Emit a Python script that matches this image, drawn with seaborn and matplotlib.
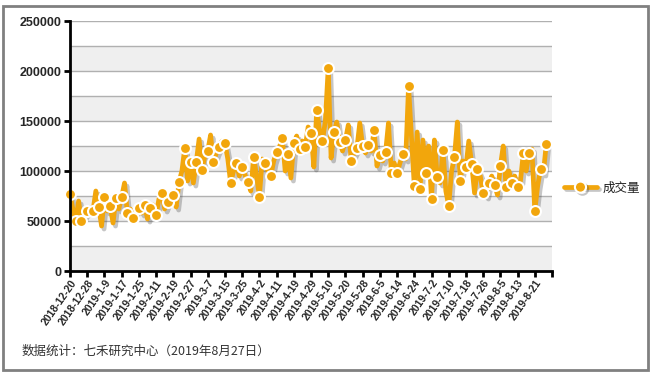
import numpy as np
import pandas as pd
import matplotlib
matplotlib.use("Agg")
import matplotlib.pyplot as plt
import matplotlib.patheffects as pe
from matplotlib.patches import Rectangle
from matplotlib.lines import Line2D
import seaborn as sns

# ---- data (trading-day volume, thousands) ----
volume_k = [
    77, 62, 50, 70, 50, 56, 60, 63, 60, 80,
    64, 45, 74, 60, 65, 48, 73, 62, 74, 88,
    58, 62, 53, 60, 63, 58, 66, 52, 63, 66,
    56, 72, 78, 62, 69, 72, 76, 64, 89, 100,
    123, 90, 109, 88, 109, 132, 101, 115, 120, 136,
    109, 118, 124, 130, 128, 112, 88, 100, 108, 95,
    104, 96, 89, 80, 114, 96, 74, 112, 108, 100,
    95, 110, 119, 124, 133, 100, 117, 93, 128, 135,
    122, 130, 124, 144, 138, 104, 161, 140, 130, 150,
    203, 113, 139, 149, 129, 120, 131, 146, 110, 118,
    123, 148, 125, 118, 126, 120, 141, 105, 116, 110,
    119, 148, 98, 108, 98, 108, 117, 112, 185, 135,
    85, 139, 82, 131, 98, 125, 72, 131, 94, 88,
    121, 80, 65, 100, 114, 149, 90, 110, 104, 130,
    107, 78, 102, 95, 78, 75, 88, 95, 86, 76,
    105, 125, 84, 100, 88, 95, 84, 90, 118, 100,
    118, 122, 60, 85, 102, 98, 127,
]
volume = [v * 1000 for v in volume_k]

tick_labels = [
    "2018-12-20", "2018-12-28", "2019-1-9", "2019-1-17", "2019-1-25",
    "2019-2-11", "2019-2-19", "2019-2-27", "2019-3-7", "2019-3-15",
    "2019-3-25", "2019-4-2", "2019-4-11", "2019-4-19", "2019-4-29",
    "2019-5-10", "2019-5-20", "2019-5-28", "2019-6-5", "2019-6-14",
    "2019-6-24", "2019-7-2", "2019-7-10", "2019-7-18", "2019-7-26",
    "2019-8-5", "2019-8-13", "2019-8-21",
]
series_name = "成交量"
y_ticks = [0, 50000, 100000, 150000, 200000, 250000]
footer = "数据统计：七禾研究中心（2019年8月27日）"

df = pd.DataFrame({"idx": np.arange(len(volume)), "val": volume})
df_mark = df.iloc[::2]

sns.set_theme(style="white")
plt.rcParams["font.family"] = ["Liberation Sans", "DejaVu Sans"]

ORANGE = "#F2A60C"

fig = plt.figure(figsize=(6.52, 3.74), dpi=100)
ax = fig.add_axes([70 / 652, 1 - 271 / 374, 482 / 652, 250 / 374])

# alternating bands and grid
for k in range(0, 250000, 50000):
    ax.axhspan(k, k + 25000, color="#EFEFEF", zorder=0, lw=0)
for k in range(25000, 250001, 25000):
    ax.axhline(k, color="#B0B0B0", lw=1, zorder=1)

# line with soft shadow
sns.lineplot(
    data=df, x="idx", y="val", ax=ax, color=ORANGE, lw=3.4,
    zorder=3, sort=False, legend=False,
    path_effects=[pe.SimpleLineShadow(offset=(1.8, -2.2), shadow_color="#444444", alpha=0.3),
                  pe.Normal()],
)
# markers on every other point
sns.scatterplot(
    data=df_mark, x="idx", y="val", ax=ax, color=ORANGE, s=62,
    edgecolor="white", linewidth=1.5, zorder=4, legend=False, clip_on=False,
)

ax.set_xlim(0, 168)
ax.set_ylim(0, 250000)
ax.set_xlabel("")
ax.set_ylabel("")

ax.set_xticks(list(range(0, 169, 6)))
ax.set_xticklabels(tick_labels + [""], rotation=55, ha="right",
                   rotation_mode="anchor", fontsize=7.5, fontweight="bold")
ax.set_yticks(y_ticks)
ax.set_yticklabels([str(v) for v in y_ticks], fontsize=9, fontweight="bold")

for s in ["top", "right"]:
    ax.spines[s].set_visible(False)
for s in ["left", "bottom"]:
    ax.spines[s].set_color("black")
    ax.spines[s].set_linewidth(2)
    ax.spines[s].set_zorder(5)
ax.tick_params(axis="both", direction="out", length=4, width=2, color="black",
               bottom=True, left=True, pad=2)
ax.tick_params(axis="x", pad=1)

handle = Line2D([], [], color=ORANGE, lw=3.4, marker="o", markersize=8,
                markerfacecolor=ORANGE, markeredgecolor="white", markeredgewidth=1.5,
                path_effects=[pe.SimpleLineShadow(offset=(1.5, -1.5), shadow_color="#444444", alpha=0.3),
                              pe.Normal()])
leg = ax.legend([handle], [series_name], loc="center left", bbox_to_anchor=(1.015, 0.332),
                frameon=False, handlelength=2.6, handletextpad=0.5, borderaxespad=0,
                prop={"family": ["Noto Sans CJK SC", "DejaVu Sans"], "size": 9})
for t in leg.get_texts():
    t.set_color("#222222")

fig.text(22 / 652, 1 - 351 / 374, footer, fontsize=9, color="#333333",
         family=["Noto Sans CJK SC", "DejaVu Sans"], va="center", ha="left")

fig.patches.append(Rectangle((3 / 652, 4 / 374), 645 / 652, 364 / 374,
                             transform=fig.transFigure, fill=False,
                             edgecolor="#808080", lw=2, zorder=10))

fig.savefig("out.png", dpi=100)
